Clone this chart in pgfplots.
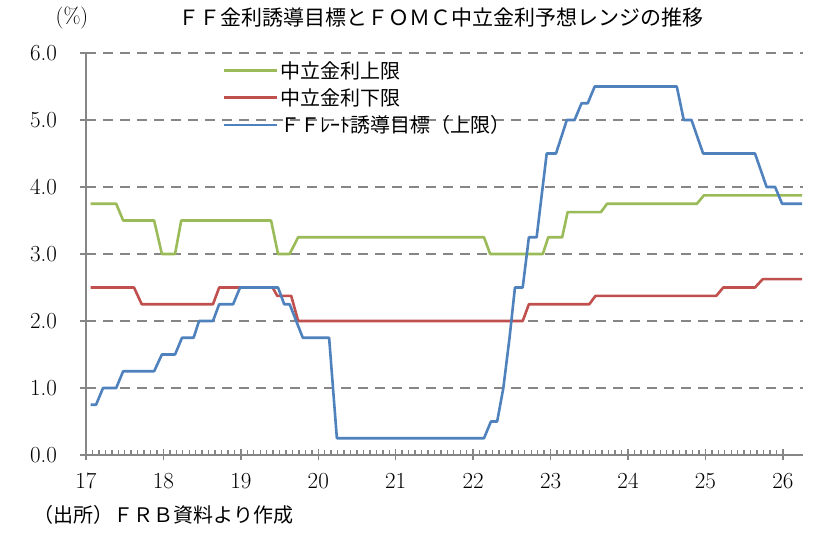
\documentclass[border=0pt]{standalone}
\usepackage{pgfplots}
\pgfplotsset{compat=1.18}
\usepackage{fontspec}
\newfontfamily\jp{Noto Sans CJK JP}
\definecolor{cgreen}{HTML}{9BBB59}
\definecolor{cred}{HTML}{C0504D}
\definecolor{cblue}{HTML}{4F81BD}
\definecolor{cgrid}{HTML}{868686}
\begin{document}
\begin{tikzpicture}
\path[use as bounding box] (0pt,0pt) rectangle (839pt,534pt);
\begin{axis}[
  at={(86pt,79pt)}, anchor=south west,
  scale only axis, width=717pt, height=402pt,
  xmin=17, xmax=26.26, ymin=0, ymax=6,
  axis x line*=bottom, axis y line*=left,
  axis line style={cgrid, line width=1.6pt},
  xtick={17,...,26}, minor x tick num=11,
  ytick={0,...,6},
  ymajorgrids,
  major grid style={cgrid, line width=1.6pt, dash pattern=on 10pt off 7pt},
  tick style={cgrid, line width=1.4pt},
  tick align=center, major tick length=11pt, minor tick length=5pt,
  minor tick style={yshift=2.5pt},
  /pgf/number format/assume math mode=true,
  yticklabel style={font=\fontsize{23}{23}\selectfont, xshift=-20pt, /pgf/number format/fixed, /pgf/number format/fixed zerofill, /pgf/number format/precision=1},
  xticklabel style={font=\fontsize{23}{23}\selectfont, yshift=-9pt},
  legend style={at={(0.19,0.985)}, anchor=north west, draw=none, fill=none,
    font=\jp\fontsize{20}{24}\selectfont, row sep=5pt, inner sep=0pt,
    cells={anchor=west}},
  legend image code/.code={\draw[#1] (0pt,0pt) -- (53pt,0pt);},
  every axis plot/.append style={line width=2.6pt, line join=round, no marks},
]
\addplot[cgreen] coordinates {
(17.06,3.75) (17.39,3.75) (17.48,3.5) (17.88,3.5) (17.98,3.0) (18.15,3.0) (18.23,3.5)
(19.39,3.5) (19.48,3.0) (19.63,3.0) (19.74,3.25) (22.14,3.25) (22.22,3.0) (22.90,3.0)
(22.97,3.25) (23.15,3.25) (23.22,3.625) (23.65,3.625) (23.73,3.75) (24.89,3.75)
(24.98,3.875) (26.25,3.875)};
\addlegendentry{中立金利上限}
\addplot[cred] coordinates {
(17.06,2.5) (17.62,2.5) (17.72,2.25) (18.64,2.25) (18.72,2.5) (19.41,2.5) (19.47,2.375)
(19.65,2.375) (19.74,2.0) (22.64,2.0) (22.72,2.25) (23.50,2.25) (23.58,2.375)
(25.14,2.375) (25.23,2.5) (25.64,2.5) (25.74,2.625) (26.25,2.625)};
\addlegendentry{中立金利下限}
\addplot[cblue] coordinates {
(17.06,0.75) (17.13,0.75) (17.22,1.0) (17.39,1.0) (17.48,1.25) (17.88,1.25) (17.98,1.5)
(18.15,1.5) (18.24,1.75) (18.39,1.75) (18.46,2.0) (18.64,2.0) (18.72,2.25) (18.90,2.25)
(18.99,2.5) (19.48,2.5) (19.56,2.25) (19.63,2.25) (19.80,1.75) (20.14,1.75) (20.24,0.25)
(22.14,0.25) (22.23,0.5) (22.31,0.5) (22.39,1.0) (22.47,1.75) (22.54,2.5) (22.64,2.5)
(22.72,3.25) (22.82,3.25) (22.95,4.5) (23.07,4.5) (23.21,5.0) (23.31,5.0) (23.40,5.25)
(23.48,5.25) (23.57,5.5) (24.63,5.5) (24.72,5.0) (24.82,5.0) (24.97,4.5) (25.64,4.5)
(25.79,4.0) (25.90,4.0) (25.99,3.75) (26.25,3.75)};
\addlegendentry{ＦＦﾚｰﾄ誘導目標（上限）}
\end{axis}
\node[font=\jp\fontsize{21}{21}\selectfont] at (441pt,516pt) {ＦＦ金利誘導目標とＦＯＭＣ中立金利予想レンジの推移};
\node[font=\fontsize{22}{22}\selectfont] at (72pt,516pt) {(\%)};
\node[font=\jp\fontsize{20}{20}\selectfont, anchor=west] at (30pt,19pt) {（出所）ＦＲＢ資料より作成};
\end{tikzpicture}
\end{document}
